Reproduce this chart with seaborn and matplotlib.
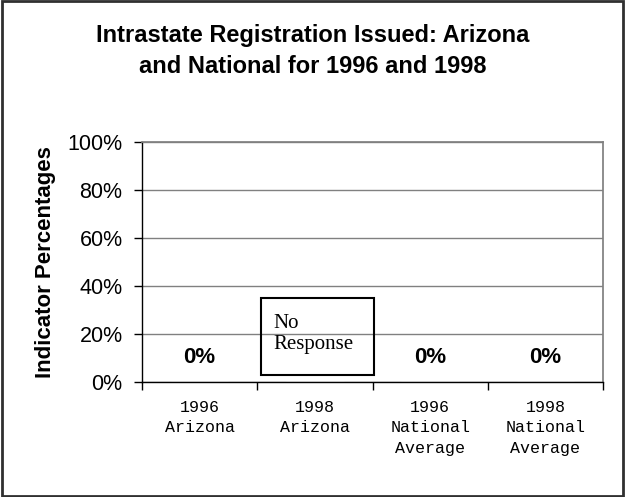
import matplotlib
matplotlib.use("Agg")
import matplotlib.pyplot as plt
import seaborn as sns
import pandas as pd
from matplotlib.patches import Rectangle

# Data
categories = ["1996\nArizona", "1998\nArizona", "1996\nNational\nAverage", "1998\nNational\nAverage"]
values = [0, None, 0, 0]
value_labels = ["0%", None, "0%", "0%"]
missing_text = "No\nResponse"
y_ticks = [0, 0.2, 0.4, 0.6, 0.8, 1.0]

sns.set_theme(style="white")
plt.rcParams['font.family'] = ['Liberation Sans', 'DejaVu Sans']
plt.rcParams['text.color'] = 'black'
plt.rcParams['axes.labelcolor'] = 'black'
plt.rcParams['xtick.color'] = 'black'
plt.rcParams['ytick.color'] = 'black'

df = pd.DataFrame({"cat": categories, "val": [v if v is not None else 0 for v in values]})

fig = plt.figure(figsize=(6.25, 4.97), dpi=100)
ax = fig.add_axes([0.2272, 0.2314, 0.7376, 0.4829])

sns.barplot(data=df, x="cat", y="val", color="#9999ff", ax=ax, width=0.5)

ax.set_ylim(0, 1)
ax.set_xlim(-0.5, len(categories) - 0.5)
ax.set_yticks(y_ticks)
ax.set_yticklabels([f"{int(round(t*100))}%" for t in y_ticks], fontsize=15.5)
ax.yaxis.grid(True, color="#808080", linewidth=1)
ax.set_axisbelow(True)

ax.set_xticks([i - 0.5 for i in range(len(categories) + 1)], minor=False)
ax.set_xticklabels([])
ax.set_xticks(range(len(categories)), minor=True)
ax.set_xticklabels(categories, minor=True, fontsize=12, family="Liberation Mono", linespacing=1.45)
ax.tick_params(axis="x", which="major", length=6, width=1, color="black", direction="out", bottom=True)
ax.tick_params(axis="x", which="minor", length=0, pad=13)
ax.tick_params(axis="y", length=6, width=1, color="black", direction="out", left=True, pad=8)
for lbl in ax.get_xticklabels(minor=True):
    lbl.set_verticalalignment("top")

for side in ["left", "bottom"]:
    ax.spines[side].set_color("black")
    ax.spines[side].set_linewidth(1)
ax.spines["right"].set_color("#808080")
ax.spines["top"].set_color("#808080")

ax.set_xlabel("")
ax.set_ylabel("Indicator Percentages", fontsize=16, fontweight="bold", labelpad=8)

for i, (v, lab) in enumerate(zip(values, value_labels)):
    if v is None:
        ax.text(i - 0.363, 0.285, missing_text, fontsize=15, family="Liberation Serif",
                ha="left", va="top", linespacing=1.2)
        ax.add_patch(Rectangle((i - 0.47, 0.03), 0.98, 0.32, fill=False,
                               edgecolor="black", linewidth=1.5, zorder=5))
    else:
        ax.text(i, 0.104, lab, fontsize=16, fontweight="bold", ha="center", va="center")

fig.text(0.5, 0.898, "Intrastate Registration Issued: Arizona\nand National for 1996 and 1998",
         ha="center", va="center", fontsize=17, fontweight="bold", linespacing=1.44)

fig.add_artist(Rectangle((0.003, 0.003), 0.994, 0.994, transform=fig.transFigure,
                         fill=False, edgecolor="#303030", linewidth=2))

fig.savefig("out.png", dpi=100)
